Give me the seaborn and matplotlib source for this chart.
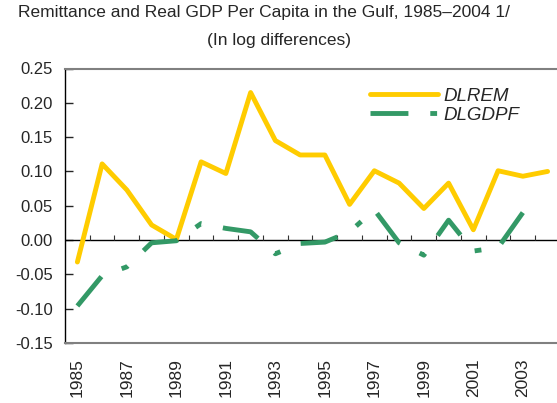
import numpy as np
import pandas as pd
import matplotlib
matplotlib.use('Agg')
import matplotlib.pyplot as plt
import seaborn as sns

# ── Data ─────────────────────────────────────────────────────────────────────
years = list(range(1985, 2005))
dlrem = [-0.032, 0.111, 0.073, 0.022, 0.001, 0.114, 0.097, 0.215, 0.145, 0.124,
         0.124, 0.052, 0.101, 0.083, 0.046, 0.083, 0.015, 0.101, 0.093, 0.100]
dlgdpf = [-0.096, -0.052, -0.039, -0.004, -0.001, 0.024, 0.017, 0.012, -0.020, -0.005,
          -0.003, 0.012, 0.044, -0.004, -0.022, 0.029, -0.016, -0.011, 0.040, np.nan]
y_ticks = [-0.15, -0.10, -0.05, 0.00, 0.05, 0.10, 0.15, 0.20, 0.25]

YELLOW = '#FFCC00'
GREEN = '#339966'

sns.set_style('white')
plt.rcParams['font.family'] = ['Liberation Sans', 'DejaVu Sans']
plt.rcParams['axes.unicode_minus'] = False

df = pd.DataFrame({'year': years, 'DLREM': dlrem, 'DLGDPF': dlgdpf})

fig = plt.figure(figsize=(5.57, 4.03), dpi=100)
ax = fig.add_axes([65 / 557, 1 - 343 / 403, 1 - 65 / 557, (343 - 68.5) / 403])

sns.lineplot(data=df, x='year', y='DLREM', color=YELLOW, linewidth=3.5,
             solid_capstyle='round', label='DLREM', ax=ax)
sns.lineplot(data=df.dropna(), x='year', y='DLGDPF', color=GREEN, linewidth=3.5,
             linestyle=(0, (7.8, 4.5, 1.4, 4.5)), dash_capstyle='butt',
             label='DLGDPF', ax=ax)

# zero line with small category-boundary ticks
ax.axhline(0, color='black', linewidth=1, zorder=1)
bounds = np.array(years[:-1]) + 0.5
ax.vlines(bounds, 0, 0.0075, color='#333333', linewidth=0.8, zorder=1)

ax.set_xlim(1984.5, 2004.38)
ax.set_ylim(-0.15, 0.25)
ax.set_yticks(y_ticks)
ax.set_yticklabels([f'{v:.2f}' for v in y_ticks], fontsize=12)
ax.tick_params(axis='y', direction='in', length=6, width=1, pad=9, left=True)
ax.set_xticks(years[::2])
ax.set_xticklabels([str(y) for y in years[::2]], rotation=90, fontsize=12.5)
ax.tick_params(axis='x', length=0, pad=11)
ax.set_xlabel('')
ax.set_ylabel('')

for s in ['top', 'bottom']:
    ax.spines[s].set_color('#808080')
    ax.spines[s].set_linewidth(1.5)
ax.spines['right'].set_visible(False)
ax.spines['left'].set_color('black')
ax.spines['left'].set_linewidth(1)

leg = ax.legend(loc='upper left', bbox_to_anchor=(0.62, 0.93), frameon=False,
                prop={'style': 'italic', 'size': 13.5}, handlelength=3.6,
                handletextpad=0.3, labelspacing=0.1, borderpad=0, borderaxespad=0)

fig.text(264 / 557, 1 - 13 / 403, 'Remittance and Real GDP Per Capita in the Gulf, 1985\u20132004 1/',
         ha='center', va='center', fontsize=12.5)
fig.text(279 / 557, 1 - 40 / 403, '(In log differences)', ha='center', va='center', fontsize=12.5)

fig.savefig('out.png', dpi=100)
